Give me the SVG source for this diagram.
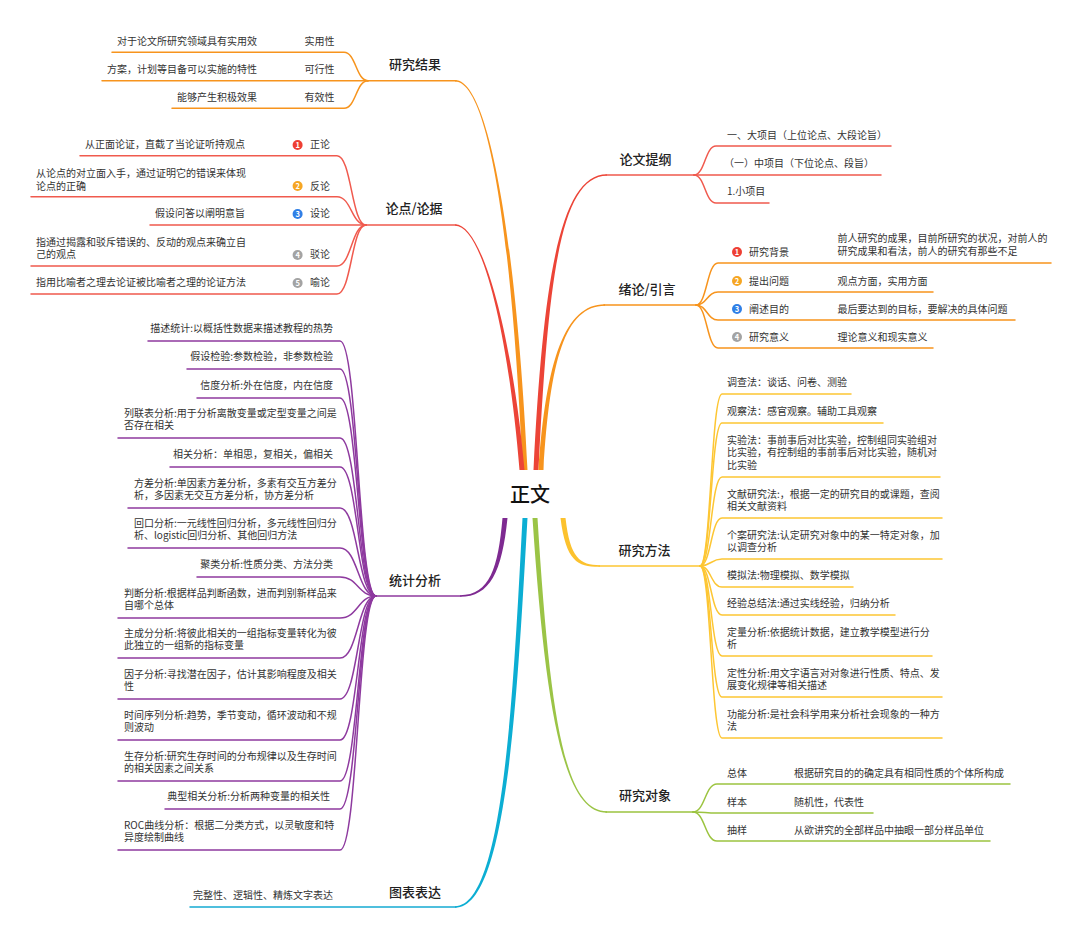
<svg xmlns="http://www.w3.org/2000/svg" width="1080" height="939" viewBox="0 0 1080 939">
<style>
text{font-family:'Noto Sans CJK SC','Noto Sans',sans-serif;fill:#333;font-size:10px}
.m{font-size:13px;fill:#222;text-anchor:middle;font-weight:500}
.c{font-size:20px;fill:#111;text-anchor:middle;font-weight:500}
.e{text-anchor:end}
.l{fill:none;stroke-width:1.5;stroke-linecap:round}
.red{stroke:#F05A4E}.org{stroke:#F7941D}.yel{stroke:#FDC633}.pur{stroke:#8E3A9F}.blu{stroke:#16AAD2}.grn{stroke:#9CC440}
.n{font-size:7.5px;fill:#fff;font-weight:bold;text-anchor:middle}
</style>
<rect width="1080" height="939" fill="#fff"/>
<g id="connectors">
  <path fill="#F7941D" d="M522.5,470 C513,250 490,81.8 455,81.5 L455,79.9 C490,79.6 517,250 527.5,470 Z"/>
  <path fill="#EC4437" d="M519.5,470 C510,350 485,226 455,225.8 L455,224.2 C485,224 514,350 524.5,470 Z"/>
  <path fill="#EC4437" d="M533.5,470 C543,280 560,174 607,174.2 L607,175.8 C560,176 548,280 538.5,470 Z"/>
  <path fill="#F7941D" d="M538.5,470 C546,360 565,304 605,304.2 L605,305.8 C565,306 550,360 543.5,470 Z"/>
  <path fill="#FCC22E" d="M565.5,518 C570,558 580,565.2 600,565.2 L600,566.8 C578,567 566,562 560.5,518 Z"/>
  <path fill="#9BC446" d="M537.5,518 C550,720 565,811.2 607,811.2 L607,812.8 C565,813 546,720 532.5,518 Z"/>
  <path fill="#0CAED3" d="M527.5,518 C517,700 507,907.8 455,907.8 L455,906.2 C503,906 513,700 522.5,518 Z"/>
  <path fill="#7E2A91" d="M507.5,518 C502,572 490,596.8 460,596.8 L460,595.2 C490,595 498,568 502.5,518 Z"/>
  <g class="l org">
    <path d="M368,80.7 H456"/>
    <path d="M368,80.7 C356,80.7 356,52.3 344,52.3 H112"/>
    <path d="M368,80.7 H102"/>
    <path d="M368,80.7 C356,80.7 356,108.3 344,108.3 H172"/>
  </g>
  <g class="l red">
    <path d="M366,225 H456"/>
    <path d="M366,225 C351.5,225 351.5,155.7 337,155.7 H80"/>
    <path d="M366,225 C351.5,225 351.5,196.7 337,196.7 H31"/>
    <path d="M366,225 H150"/>
    <path d="M366,225 C351.5,225 351.5,266 337,266 H31"/>
    <path d="M366,225 C351.5,225 351.5,294 337,294 H31"/>
  </g>
  <g class="l red">
    <path d="M606,175 H694"/>
    <path d="M694,175 C705,175 705,146 716,146 H891"/>
    <path d="M694,175 H881"/>
    <path d="M694,175 C705,175 705,203 716,203 H769"/>
  </g>
  <g class="l org">
    <path d="M604,305 H696"/>
    <path d="M696,305 C707,305 707,263 718,263 H1051"/>
    <path d="M696,305 C707,305 707,292 718,292 H933"/>
    <path d="M696,305 C707,305 707,320 718,320 H1015"/>
    <path d="M696,305 C707,305 707,348 718,348 H933"/>
  </g>
  <g class="l yel">
    <path d="M599,566 H700"/>
    <path d="M700,566 C711,566 711,394 722,394 H851"/>
    <path d="M700,566 C711,566 711,423 722,423 H883"/>
    <path d="M700,566 C711,566 711,477 722,477 H940"/>
    <path d="M700,566 C711,566 711,518 722,518 H942"/>
    <path d="M700,566 C711,566 711,559 722,559 H942"/>
    <path d="M700,566 C711,566 711,587 722,587 H853"/>
    <path d="M700,566 C711,566 711,615 722,615 H895"/>
    <path d="M700,566 C711,566 711,656 722,656 H932"/>
    <path d="M700,566 C711,566 711,697 722,697 H942"/>
    <path d="M700,566 C711,566 711,738 722,738 H942"/>
  </g>
  <g class="l grn">
    <path d="M606,812 H693"/>
    <path d="M693,812 C705,812 705,784 717,784 H1010"/>
    <path d="M693,812 C705,812 705,813 717,813 H873"/>
    <path d="M693,812 C705,812 705,841 717,841 H990"/>
  </g>
  <g class="l pur">
    <path d="M376,596 H461"/>
    <path d="M376,596 C358,596 358,341 340,341 H148"/>
    <path d="M376,596 C358,596 358,369 340,369 H187"/>
    <path d="M376,596 C358,596 358,398 340,398 H197"/>
    <path d="M376,596 C358,596 358,438 340,438 H118"/>
    <path d="M376,596 C358,596 358,467 340,467 H170"/>
    <path d="M376,596 C358,596 358,508 340,508 H128"/>
    <path d="M376,596 C358,596 358,548 340,548 H128"/>
    <path d="M376,596 C358,596 358,577 340,577 H197"/>
    <path d="M376,596 C358,596 358,618 340,618 H118"/>
    <path d="M376,596 C358,596 358,658 340,658 H118"/>
    <path d="M376,596 C358,596 358,699 340,699 H118"/>
    <path d="M376,596 C358,596 358,740 340,740 H118"/>
    <path d="M376,596 C358,596 358,781 340,781 H118"/>
    <path d="M376,596 C358,596 358,809 340,809 H165"/>
    <path d="M376,596 C358,596 358,850 340,850 H118"/>
  </g>
  <g class="l blu">
    <path d="M190,907 H456"/>
  </g>
</g>

<g id="center"><text class="c" x="530" y="502">正文</text></g>

<g id="yanjiujieguo">
  <text class="m" x="415" y="69">研究结果</text>
  <text class="e" x="257" y="45">对于论文所研究领域具有实用效</text><text x="304.5" y="45">实用性</text>
  <text class="e" x="257" y="73">方案，计划等目备可以实施的特性</text><text x="304.5" y="73">可行性</text>
  <text class="e" x="257" y="101">能够产生积极效果</text><text x="304.5" y="101">有效性</text>
</g>

<g id="lundian">
  <text class="m" x="414" y="213">论点/论据</text>
  <text class="e" x="245" y="148">从正面论证，直截了当论证听持观点</text>
  <circle cx="297.6" cy="145" r="5" fill="#EE3F34"/><text class="n" x="297.6" y="147.8">1</text>
  <text x="310" y="148">正论</text>
  <text x="36" y="177">从论点的对立面入手，通过证明它的错误来体现<tspan x="36" dy="12.5">论点的正确</tspan></text>
  <circle cx="297.6" cy="186" r="5" fill="#F6A623"/><text class="n" x="297.6" y="188.8">2</text>
  <text x="310" y="189.5">反论</text>
  <text class="e" x="245" y="217">假设问答以阐明意旨</text>
  <circle cx="297.6" cy="214" r="5" fill="#2F7FE6"/><text class="n" x="297.6" y="216.8">3</text>
  <text x="310" y="217">设论</text>
  <text x="36" y="245.5">指通过揭露和驳斥错误的、反动的观点来确立自<tspan x="36" dy="12.5">己的观点</tspan></text>
  <circle cx="297.6" cy="255" r="5" fill="#A3A3A3"/><text class="n" x="297.6" y="257.8">4</text>
  <text x="310" y="258">驳论</text>
  <text x="36" y="286">指用比喻者之理去论证被比喻者之理的论证方法</text>
  <circle cx="297.6" cy="283" r="5" fill="#A3A3A3"/><text class="n" x="297.6" y="285.8">5</text>
  <text x="310" y="286">喻论</text>
</g>

<g id="lunwentigang">
  <text class="m" x="645.5" y="164">论文提纲</text>
  <text x="727" y="139">一、大项目（上位论点、大段论旨）</text>
  <text x="724" y="167">（一）中项目（下位论点、段旨）</text>
  <text x="727" y="195">1.小项目</text>
</g>

<g id="xulun">
  <text class="m" x="647" y="294">绪论/引言</text>
  <circle cx="737" cy="252" r="5" fill="#EE3F34"/><text class="n" x="737" y="254.8">1</text>
  <text x="749" y="255.5">研究背景</text>
  <text x="837.6" y="242">前人研究的成果，目前所研究的状况，对前人的<tspan x="837.6" dy="12.5">研究成果和看法，前人的研究有那些不足</tspan></text>
  <circle cx="737" cy="281" r="5" fill="#F6A623"/><text class="n" x="737" y="283.8">2</text>
  <text x="749" y="284.5">提出问题</text>
  <text x="837.6" y="284.5">观点方面，实用方面</text>
  <circle cx="737" cy="309" r="5" fill="#2F7FE6"/><text class="n" x="737" y="311.8">3</text>
  <text x="749" y="312.5">阐述目的</text>
  <text x="837.6" y="312.5">最后要达到的目标，要解决的具体问题</text>
  <circle cx="737" cy="337" r="5" fill="#A3A3A3"/><text class="n" x="737" y="339.8">4</text>
  <text x="749" y="340.5">研究意义</text>
  <text x="837.6" y="340.5">理论意义和现实意义</text>
</g>

<g id="yanjiufangfa">
  <text class="m" x="644.5" y="555">研究方法</text>
  <text x="727" y="386">调查法：谈话、问卷、测验</text>
  <text x="727" y="415">观察法：感官观察。辅助工具观察</text>
  <text x="727" y="443.5">实验法：事前事后对比实验，控制组同实验组对<tspan x="727" dy="12.5">比实验，有控制组的事前事后对比实验，随机对</tspan><tspan x="727" dy="12.5">比实验</tspan></text>
  <text x="727" y="497.5">文献研究法:，根据一定的研究目的或课题，查阅<tspan x="727" dy="12.5">相关文献资料</tspan></text>
  <text x="727" y="538.5">个案研究法:认定研究对象中的某一特定对象，加<tspan x="727" dy="12.5">以调查分析</tspan></text>
  <text x="727" y="579">模拟法:物理模拟、数学模拟</text>
  <text x="727" y="607">经验总结法:通过实线经验，归纳分析</text>
  <text x="727" y="635.5">定量分析:依据统计数据，建立教学模型进行分<tspan x="727" dy="12.5">析</tspan></text>
  <text x="727" y="676.5">定性分析:用文字语言对对象进行性质、特点、发<tspan x="727" dy="12.5">展变化规律等相关描述</tspan></text>
  <text x="727" y="717.5">功能分析:是社会科学用来分析社会现象的一种方<tspan x="727" dy="12.5">法</tspan></text>
</g>

<g id="yanjiuduixiang">
  <text class="m" x="645" y="800">研究对象</text>
  <text x="727" y="776.5">总体</text><text x="794" y="776.5">根据研究目的的确定具有相同性质的个体所构成</text>
  <text x="727" y="805.5">样本</text><text x="794" y="805.5">随机性，代表性</text>
  <text x="727" y="833.5">抽样</text><text x="794" y="833.5">从欲讲究的全部样品中抽眼一部分样品单位</text>
</g>

<g id="tongjifenxi">
  <text class="m" x="415" y="585">统计分析</text>
  <text class="e" x="333" y="332">描述统计:以概括性数据来描述教程的热势</text>
  <text class="e" x="333" y="360">假设检验:参数检验，非参数检验</text>
  <text class="e" x="333" y="389">信度分析:外在信度，内在信度</text>
  <text x="124" y="416.5">列联表分析:用于分析离散变量或定型变量之间是<tspan x="124" dy="12.5">否存在相关</tspan></text>
  <text class="e" x="333" y="458">相关分析：单相思，复相关，偏相关</text>
  <text x="134" y="486.5">方差分析:单因素方差分析，多素有交互方差分<tspan x="134" dy="12.5">析，多因素无交互方差分析，协方差分析</tspan></text>
  <text x="134" y="526.5">回口分析:一元线性回归分析，多元线性回归分<tspan x="134" dy="12.5">析、logistic回归分析、其他回归方法</tspan></text>
  <text class="e" x="333" y="568">聚类分析:性质分类、方法分类</text>
  <text x="124" y="596.5">判断分析:根据样品判断函数，进而判别新样品来<tspan x="124" dy="12.5">自哪个总体</tspan></text>
  <text x="124" y="636.5">主成分分析:将彼此相关的一组指标变量转化为彼<tspan x="124" dy="12.5">此独立的一组新的指标变量</tspan></text>
  <text x="124" y="677.5">因子分析:寻找潜在因子，估计其影响程度及相关<tspan x="124" dy="12.5">性</tspan></text>
  <text x="124" y="718.5">时间序列分析:趋势，季节变动，循环波动和不规<tspan x="124" dy="12.5">则波动</tspan></text>
  <text x="124" y="759.5">生存分析:研究生存时间的分布规律以及生存时间<tspan x="124" dy="12.5">的相关因素之间关系</tspan></text>
  <text class="e" x="330" y="800">典型相关分析:分析两种变量的相关性</text>
  <text x="124" y="828.5">ROC曲线分析：根据二分类方式，以灵敏度和特<tspan x="124" dy="12.5">异度绘制曲线</tspan></text>
</g>

<g id="tubiaobiaoda">
  <text class="m" x="415" y="897">图表表达</text>
  <text class="e" x="333" y="899">完整性、逻辑性、精炼文字表达</text>
</g>
</svg>
